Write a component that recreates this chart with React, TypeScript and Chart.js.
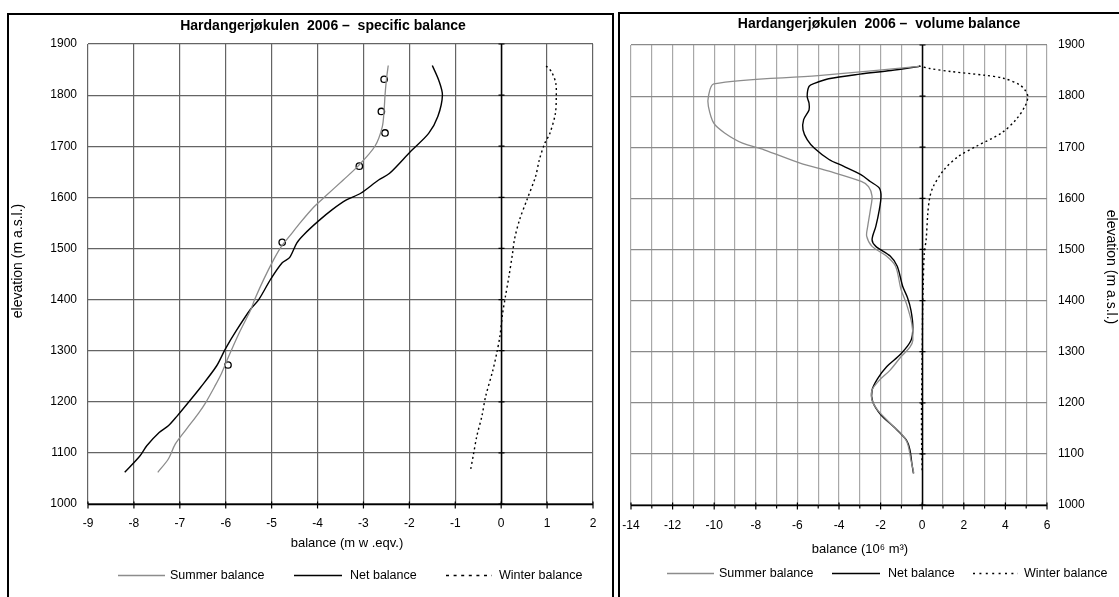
import { useEffect, useRef } from "react";
import { Chart, registerables } from "chart.js";
Chart.register(...registerables);

const FONT = '"Liberation Sans", Arial, Helvetica, sans-serif';

// ---------- Specific balance (m w.eqv.) vs elevation ----------
const specSummerElev = [1858, 1830, 1800, 1771, 1738, 1700, 1660, 1634, 1602, 1582, 1550, 1524, 1505, 1479, 1440, 1400, 1379, 1336, 1290, 1256, 1230, 1198, 1178, 1146, 1117, 1088, 1062];
const specSummerVal = [-2.46, -2.5, -2.53, -2.55, -2.59, -2.75, -3.13, -3.44, -3.83, -4.07, -4.38, -4.61, -4.78, -4.95, -5.17, -5.37, -5.46, -5.7, -5.93, -6.09, -6.24, -6.44, -6.59, -6.86, -7.1, -7.25, -7.48];

const specNetElev = [1858, 1829, 1800, 1758, 1725, 1690, 1647, 1634, 1608, 1595, 1576, 1553, 1527, 1511, 1482, 1472, 1440, 1400, 1381, 1339, 1303, 1270, 1228, 1198, 1172, 1153, 1140, 1114, 1094, 1062];
const specNetVal = [-1.5, -1.36, -1.28, -1.38, -1.58, -1.97, -2.43, -2.67, -3.06, -3.37, -3.68, -3.99, -4.3, -4.45, -4.61, -4.77, -5.02, -5.28, -5.46, -5.77, -6.01, -6.2, -6.55, -6.82, -7.06, -7.25, -7.45, -7.72, -7.87, -8.2];

const specWinterElev = [1857, 1845, 1823, 1797, 1764, 1725, 1706, 1673, 1641, 1595, 1556, 1518, 1492, 1446, 1405, 1372, 1327, 1294, 1262, 1210, 1172, 1133, 1094, 1065];
const specWinterVal = [0.98, 1.1, 1.19, 1.2, 1.18, 1.06, 0.95, 0.83, 0.75, 0.56, 0.4, 0.29, 0.25, 0.17, 0.09, 0.03, -0.03, -0.1, -0.18, -0.34, -0.42, -0.53, -0.61, -0.67];

const obsElev = [1831, 1768, 1726, 1661, 1512, 1272];
const obsVal = [-2.55, -2.61, -2.53, -3.09, -4.77, -5.95];

// ---------- Volume balance (10^6 m^3) vs elevation ----------
const volSummerElev = [1858, 1840, 1824, 1799, 1780, 1747, 1728, 1708, 1695, 1669, 1653, 1633, 1623, 1604, 1578, 1545, 1526, 1506, 1487, 1467, 1422, 1394, 1355, 1322, 1309, 1290, 1264, 1244, 1225, 1205, 1186, 1160, 1140, 1121, 1088, 1062];
const volSummerVal = [-0.16, -5.0, -10.02, -10.28, -10.28, -10.02, -9.5, -8.64, -7.6, -5.87, -4.48, -2.93, -2.58, -2.41, -2.49, -2.62, -2.67, -2.41, -1.72, -1.28, -1.02, -0.76, -0.5, -0.45, -0.59, -1.02, -1.54, -2.06, -2.41, -2.41, -2.15, -1.54, -1.02, -0.71, -0.54, -0.4];

const volNetElev = [1858, 1850, 1843, 1834, 1825, 1819, 1799, 1786, 1773, 1754, 1734, 1715, 1698, 1676, 1663, 1646, 1633, 1620, 1604, 1578, 1545, 1519, 1506, 1487, 1467, 1428, 1406, 1381, 1348, 1322, 1296, 1270, 1247, 1225, 1202, 1176, 1153, 1127, 1108, 1082, 1062];
const volNetVal = [-0.16, -1.5, -3.0, -4.5, -5.18, -5.44, -5.53, -5.44, -5.44, -5.7, -5.73, -5.53, -5.18, -4.48, -3.79, -2.93, -2.5, -2.06, -1.98, -2.06, -2.23, -2.41, -2.23, -1.54, -1.2, -0.94, -0.71, -0.54, -0.45, -0.54, -1.02, -1.72, -2.15, -2.41, -2.38, -1.98, -1.37, -0.76, -0.59, -0.5, -0.42];

const volWinterElev = [1859, 1854, 1848, 1841, 1835, 1822, 1812, 1799, 1780, 1754, 1728, 1702, 1682, 1656, 1623, 1601, 1571, 1519, 1493, 1435, 1380, 1300, 1200, 1130, 1062];
const volWinterVal = [-0.16, 0.36, 1.4, 2.96, 3.91, 4.69, 4.94, 5.08, 4.94, 4.51, 3.82, 2.61, 1.74, 1.05, 0.53, 0.36, 0.27, 0.19, 0.1, 0.05, 0.02, 0.0, -0.03, -0.03, 0.0];

// ---------- Text ----------
const seriesNames = ["Summer balance", "Net balance", "Winter balance"];
const leftTitle = "Hardangerjøkulen  2006 –  specific balance";
const rightTitle = "Hardangerjøkulen  2006 –  volume balance";
const leftXTitle = "balance (m w .eqv.)";
const rightXTitle = "balance (10⁶ m³)";
const yTitle = "elevation (m a.s.l.)";

const SUMMER = { color: "#8c8c8c", width: 1.3, dash: [] as number[] };
const NET = { color: "#000000", width: 1.4, dash: [] as number[] };
const WINTER = { color: "#000000", width: 1.4, dash: [2, 3] };
const styles = [SUMMER, NET, WINTER];

const pts = (xs: number[], ys: number[]) => xs.map((x, i) => ({ x, y: ys[i] }));

function lineDs(label: string, data: any[], st: any) {
  return {
    label,
    data,
    showLine: true,
    borderColor: st.color,
    borderWidth: st.width,
    borderDash: st.dash,
    pointRadius: 0,
    tension: 0.3,
    fill: false,
  };
}

type Deco = {
  ox: number;
  oy: number;
  title: string;
  titleX: number;
  titleY: number;
  xTitle: string;
  xTitleX: number;
  xTitleY: number;
  yTitleX: number;
  yTitleY: number;
  yRot: number;
  legendY: number;
  legend: { x1: number; x2: number; tx: number }[];
  legendDash: number[];
  minorTicks: boolean;
};

function decoPlugin(d: Deco) {
  return {
    id: "deco",
    beforeDatasetsDraw(chart: any) {
      const { ctx, chartArea: a, scales } = chart;
      const xs = scales.x;
      const ys = scales.y;
      ctx.save();
      const x0 = Math.round(xs.getPixelForValue(0)) + 0.5;
      ctx.strokeStyle = "#000";
      ctx.lineWidth = 1.5;
      ctx.beginPath();
      ctx.moveTo(x0, a.top);
      ctx.lineTo(x0, a.bottom);
      ctx.stroke();
      ctx.lineWidth = 1.2;
      ctx.beginPath();
      for (const t of ys.ticks) {
        const y = ys.getPixelForValue(t.value);
        ctx.moveTo(x0 - 3, y);
        ctx.lineTo(x0 + 3, y);
      }
      ctx.stroke();
      const yb = Math.round(a.bottom) + 0.5;
      ctx.lineWidth = 1.6;
      ctx.beginPath();
      ctx.moveTo(a.left, yb);
      ctx.lineTo(a.right, yb);
      ctx.stroke();
      ctx.lineWidth = 1.2;
      ctx.beginPath();
      for (const t of xs.ticks) {
        const x = xs.getPixelForValue(t.value);
        const major = !d.minorTicks || Math.round(t.value) % 2 === 0;
        if (major) {
          ctx.moveTo(x, yb - 3);
          ctx.lineTo(x, yb + 4);
        } else {
          ctx.moveTo(x, yb);
          ctx.lineTo(x, yb + 3);
        }
      }
      ctx.stroke();
      ctx.restore();
    },
    afterDraw(chart: any) {
      const { ctx } = chart;
      ctx.save();
      ctx.translate(-d.ox, -d.oy);
      ctx.fillStyle = "#000";
      ctx.textBaseline = "middle";
      ctx.textAlign = "center";
      ctx.font = `bold 14px ${FONT}`;
      ctx.fillText(d.title, d.titleX, d.titleY);
      ctx.font = `13px ${FONT}`;
      ctx.fillText(d.xTitle, d.xTitleX, d.xTitleY);
      ctx.save();
      ctx.font = `14px ${FONT}`;
      ctx.translate(d.yTitleX, d.yTitleY);
      ctx.rotate(d.yRot);
      ctx.fillText(yTitle, 0, 0);
      ctx.restore();
      ctx.font = `12.5px ${FONT}`;
      ctx.textAlign = "left";
      d.legend.forEach((it, i) => {
        const st = styles[i];
        ctx.strokeStyle = st.color;
        ctx.lineWidth = i === 0 ? 1.5 : 1.6;
        ctx.setLineDash(i === 2 ? d.legendDash : []);
        ctx.beginPath();
        ctx.moveTo(it.x1, d.legendY + 0.5);
        ctx.lineTo(it.x2, d.legendY + 0.5);
        ctx.stroke();
        ctx.setLineDash([]);
        ctx.fillText(seriesNames[i], it.tx, d.legendY + 1);
      });
      ctx.restore();
    },
  };
}

const tickFont = { size: 12, family: FONT };

const fitX = (h: number) => (s: any) => {
  s.height = h;
  s.paddingLeft = 0;
  s.paddingRight = 0;
};
const fitY = (w: number) => (s: any) => {
  s.width = w;
  s.paddingTop = 0;
  s.paddingBottom = 0;
};

function makeLeft(): any {
  return {
    type: "scatter",
    data: {
      datasets: [
        lineDs(seriesNames[0], pts(specSummerVal, specSummerElev), SUMMER),
        lineDs(seriesNames[1], pts(specNetVal, specNetElev), NET),
        lineDs(seriesNames[2], pts(specWinterVal, specWinterElev), WINTER),
        {
          label: "observed",
          data: pts(obsVal, obsElev),
          showLine: false,
          pointRadius: 3.2,
          pointStyle: "circle",
          borderColor: "#000",
          backgroundColor: "#fff",
          borderWidth: 1.3,
        },
      ],
    },
    options: {
      responsive: false,
      animation: false,
      events: [],
      layout: { padding: { left: 0, top: 29, right: 19, bottom: 0 } },
      plugins: { legend: { display: false }, title: { display: false }, tooltip: { enabled: false } },
      scales: {
        x: {
          type: "linear",
          min: -9,
          max: 2,
          ticks: { stepSize: 1, padding: 12, font: tickFont, color: "#000", autoSkip: false, maxRotation: 0, callback: (v: any) => String(v) },
          grid: { color: "#646464", lineWidth: 1.2, drawTicks: false },
          border: { display: false },
          afterFit: fitX(93),
        },
        y: {
          type: "linear",
          min: 1000,
          max: 1900,
          ticks: { stepSize: 100, padding: 11, font: tickFont, color: "#000", callback: (v: any) => String(v) },
          grid: { color: "#646464", lineWidth: 1.2, drawTicks: false },
          border: { display: false },
          afterFit: fitY(79),
        },
      },
    },
    plugins: [
      decoPlugin({
        ox: 9, oy: 15,
        title: leftTitle, titleX: 323, titleY: 26,
        xTitle: leftXTitle, xTitleX: 347, xTitleY: 543,
        yTitleX: 18, yTitleY: 261, yRot: -Math.PI / 2,
        legendY: 575,
        legend: [
          { x1: 118, x2: 165, tx: 170 },
          { x1: 294, x2: 342, tx: 350 },
          { x1: 446, x2: 492, tx: 499 },
        ],
        legendDash: [3, 4.6],
        minorTicks: false,
      }),
    ],
  };
}

function makeRight(): any {
  return {
    type: "scatter",
    data: {
      datasets: [
        lineDs(seriesNames[0], pts(volSummerVal, volSummerElev), SUMMER),
        lineDs(seriesNames[1], pts(volNetVal, volNetElev), NET),
        lineDs(seriesNames[2], pts(volWinterVal, volWinterElev), WINTER),
      ],
    },
    options: {
      responsive: false,
      animation: false,
      events: [],
      layout: { padding: { left: 11, top: 31, right: 0, bottom: 0 } },
      plugins: { legend: { display: false }, title: { display: false }, tooltip: { enabled: false } },
      scales: {
        x: {
          type: "linear",
          min: -14,
          max: 6,
          ticks: {
            stepSize: 1, padding: 13, font: tickFont, color: "#000", autoSkip: false, maxRotation: 0,
            callback: (v: any) => (Math.round(v) % 2 === 0 ? String(v) : ""),
          },
          grid: { color: "#a8a8a8", lineWidth: 1.2, drawTicks: false },
          border: { display: false },
          afterFit: fitX(92),
        },
        y: {
          type: "linear",
          position: "right",
          min: 1000,
          max: 1900,
          ticks: { stepSize: 100, padding: 11, font: tickFont, color: "#000", callback: (v: any) => String(v) },
          grid: { color: "#8a8a8a", lineWidth: 1.2, drawTicks: false },
          border: { display: false },
          afterFit: fitY(72),
        },
      },
    },
    plugins: [
      decoPlugin({
        ox: 620, oy: 14,
        title: rightTitle, titleX: 879, titleY: 24,
        xTitle: rightXTitle, xTitleX: 860, xTitleY: 549,
        yTitleX: 1111, yTitleY: 267, yRot: Math.PI / 2,
        legendY: 573,
        legend: [
          { x1: 667, x2: 714, tx: 719 },
          { x1: 832, x2: 880, tx: 888 },
          { x1: 973, x2: 1018, tx: 1024 },
        ],
        legendDash: [2, 4.4],
        minorTicks: true,
      }),
    ],
  };
}

export default function App() {
  const leftRef = useRef<HTMLCanvasElement>(null);
  const rightRef = useRef<HTMLCanvasElement>(null);

  useEffect(() => {
    const c1 = new Chart(leftRef.current as HTMLCanvasElement, makeLeft());
    const c2 = new Chart(rightRef.current as HTMLCanvasElement, makeRight());
    return () => {
      c1.destroy();
      c2.destroy();
    };
  }, []);

  return (
    <div style={{ position: "absolute", left: 0, top: 0, width: 1119, height: 597, overflow: "hidden", background: "#fff" }}>
      <div style={{ position: "absolute", left: 7, top: 13, width: 607, height: 700, border: "2px solid #000", boxSizing: "border-box" }} />
      <div style={{ position: "absolute", left: 618, top: 12, width: 600, height: 700, border: "2px solid #000", boxSizing: "border-box" }} />
      <canvas ref={leftRef} width={603} height={582} style={{ position: "absolute", left: 9, top: 15, width: 603, height: 582 }} />
      <canvas ref={rightRef} width={499} height={583} style={{ position: "absolute", left: 620, top: 14, width: 499, height: 583 }} />
    </div>
  );
}
